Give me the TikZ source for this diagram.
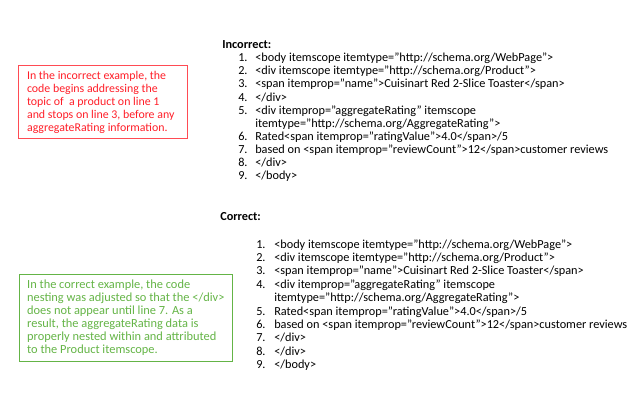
\documentclass[tikz,border=0pt]{standalone}
\usepackage{fontspec}
\setmainfont{Carlito}
\usetikzlibrary{positioning}
\definecolor{badred}{RGB}{255,30,40}
\definecolor{goodgreen}{RGB}{100,180,70}
\tikzset{
	codeline/.style={anchor=base west, inner sep=0pt, font=\fontsize{9.2pt}{11pt}\selectfont},
	codenum/.style={anchor=base west, inner sep=0pt, font=\fontsize{9.2pt}{11pt}\selectfont},
	notebox/.style={draw, line width=0.9pt, anchor=north west, inner sep=0pt},
	notetext/.style={anchor=north west, align=left, inner sep=0pt}
}
\begin{document}
\begin{tikzpicture}[x=0.75pt, y=-0.75pt]
		%%%%% START %%%%%
		\useasboundingbox (0, 0) rectangle (640, 400);
		
		% notes
		\node[notebox, draw=badred!80, minimum width=126.8pt, minimum height=54.8pt] (badbox) at (18, 65) {};
		\node[notetext, text=badred, font=\fontsize{8.9pt}{9.75pt}\selectfont] (badnote) at ([xshift=6.6pt, yshift=-4.3pt]badbox.north west) {In the incorrect example, the\\code begins addressing the\\topic of~ a product on line 1\\and stops on line 3, before any\\aggregateRating information.};
		\node[notebox, draw=goodgreen, minimum width=159.8pt, minimum height=65.3pt] (goodbox) at (18.5, 274) {};
		\node[notetext, text=goodgreen, font=\fontsize{9.3pt}{9.75pt}\selectfont] (goodnote) at ([xshift=6.3pt, yshift=-4pt]goodbox.north west) {In the correct example, the code\\nesting was adjusted so that the </div>\\does not appear until line 7. As a\\result, the aggregateRating data is\\properly nested within and attributed\\to the Product itemscope.};
		
		% incorrect code
		\node[codeline, font=\bfseries\fontsize{9.2pt}{11pt}\selectfont] (badhead) at (222, 48) {Incorrect:};
		\node[codenum] (bn1) at (238, 61.5) {1.};
		\node[codeline] (b1) at (255, 61.5) {<body itemscope itemtype=”http://schema.org/WebPage”>};
		\node[codenum] (bn2) at (238, 74.7) {2.};
		\node[codeline] (b2) at (255, 74.7) {<div itemscope itemtype=”http://schema.org/Product”>};
		\node[codenum] (bn3) at (238, 87.8) {3.};
		\node[codeline] (b3) at (255, 87.8) {<span itemprop=”name”>Cuisinart Red 2-Slice Toaster</span>};
		\node[codenum] (bn4) at (238, 101) {4.};
		\node[codeline] (b4) at (255, 101) {</div>};
		\node[codenum] (bn5) at (238, 114.1) {5.};
		\node[codeline] (b5) at (255, 114.1) {<div itemprop=”aggregateRating” itemscope};
		\node[codeline] (b5b) at (255, 127.3) {itemtype=”http://schema.org/AggregateRating”>};
		\node[codenum] (bn6) at (238, 140.4) {6.};
		\node[codeline] (b6) at (255, 140.4) {Rated<span itemprop=”ratingValue”>4.0</span>/5};
		\node[codenum] (bn7) at (238, 153.6) {7.};
		\node[codeline] (b7) at (255, 153.6) {based on <span itemprop=”reviewCount”>12</span>customer reviews};
		\node[codenum] (bn8) at (238, 166.7) {8.};
		\node[codeline] (b8) at (255, 166.7) {</div>};
		\node[codenum] (bn9) at (238, 179.9) {9.};
		\node[codeline] (b9) at (255, 179.9) {</body>};
		
		% correct code
		\node[codeline, font=\bfseries\fontsize{9.2pt}{11pt}\selectfont] (goodhead) at (220, 220) {Correct:};
		\node[codenum] (gn1) at (256, 248) {1.};
		\node[codeline] (g1) at (274, 248) {<body itemscope itemtype=”http://schema.org/WebPage”>};
		\node[codenum] (gn2) at (256, 261.4) {2.};
		\node[codeline] (g2) at (274, 261.4) {<div itemscope itemtype=”http://schema.org/Product”>};
		\node[codenum] (gn3) at (256, 274.8) {3.};
		\node[codeline] (g3) at (274, 274.8) {<span itemprop=”name”>Cuisinart Red 2-Slice Toaster</span>};
		\node[codenum] (gn4) at (256, 288.2) {4.};
		\node[codeline] (g4) at (274, 288.2) {<div itemprop=”aggregateRating” itemscope};
		\node[codeline] (g4b) at (274, 301.6) {itemtype=”http://schema.org/AggregateRating”>};
		\node[codenum] (gn5) at (256, 315) {5.};
		\node[codeline] (g5) at (274, 315) {Rated<span itemprop=”ratingValue”>4.0</span>/5};
		\node[codenum] (gn6) at (256, 328.4) {6.};
		\node[codeline] (g6) at (274, 328.4) {based on <span itemprop=”reviewCount”>12</span>customer reviews};
		\node[codenum] (gn7) at (256, 341.8) {7.};
		\node[codeline] (g7) at (274, 341.8) {</div>};
		\node[codenum] (gn8) at (256, 355.2) {8.};
		\node[codeline] (g8) at (274, 355.2) {</div>};
		\node[codenum] (gn9) at (256, 368.6) {9.};
		\node[codeline] (g9) at (274, 368.6) {</body>};
		%%%%% END %%%%%
\end{tikzpicture}
\end{document}
